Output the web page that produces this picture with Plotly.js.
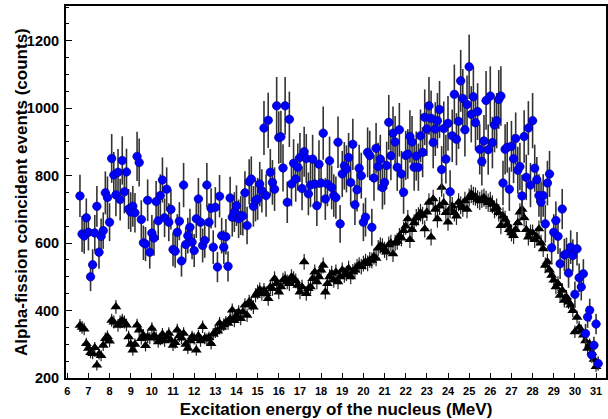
<!DOCTYPE html>
<html>
<head>
<meta charset="utf-8">
<script src="https://cdn.plot.ly/plotly-3.0.1.min.js"></script>
<style>
  html, body { margin: 0; padding: 0; background: #ffffff; }
  #chart { width: 608px; height: 419px; }
</style>
</head>
<body>
<div id="chart"></div>
<script>
// Bin centres start at 6.6 MeV, 0.1 MeV wide
const binStart = 6.6;
const binWidth = 0.1;

// Black triangles: alpha-fission coincident counts (6.6 ... 31.0 MeV)
const blackCounts = [
  356, 350, 345, 302,
  288, 275, 272, 290, 238, 271, 266, 297, 317, 323,
  309, 371, 366, 411, 356, 366, 371, 366, 357, 322,
  300, 283, 300, 357, 342, 317, 327, 296, 322, 318,
  347, 325, 320, 307, 315, 330, 310, 322, 332, 312,
  297, 305, 342, 325, 318, 332, 300, 288, 310, 322,
  317, 283, 325, 310, 352, 318, 315, 320, 302, 330,
  337, 340, 362, 350, 358, 365, 362, 376, 401, 370,
  385, 396, 376, 396, 416, 386, 426, 420, 410, 445,
  455, 462, 450, 460, 450, 435, 470, 465, 494, 480,
  455, 470, 490, 494, 485, 480, 500, 494, 488, 475,
  455, 470, 544, 450, 465, 470, 495, 514, 485, 500,
  520, 534, 455, 480, 500, 510, 490, 514, 485, 500,
  520, 505, 510, 525, 500, 515, 520, 530, 535, 530,
  539, 545, 540, 550, 549, 560, 555, 585, 593, 590,
  580, 573, 595, 600, 568, 600, 605, 620, 615, 637,
  650, 672, 610, 640, 660, 675, 680, 690, 682, 642,
  692, 721, 618, 731, 700, 672, 710, 765, 720, 690,
  662, 700, 710, 690, 680, 721, 712, 705, 725, 700,
  735, 746, 740, 738, 730, 725, 731, 735, 728, 720,
  725, 715, 700, 706, 690, 652, 680, 670, 655, 640,
  630, 622, 640, 660, 692, 700, 675, 640, 618, 630,
  630, 610, 618, 642, 600, 583, 534, 545, 520, 504,
  490, 470, 480, 445, 460, 430, 440, 425, 416, 400,
  337, 380, 350, 340, 327, 310, 288, 300, 275, 255,
  234
];

// Blue circles: alpha-fission coincident counts (6.6 ... 31.1 MeV)
const blueCounts = [
  740, 627, 621, 675,
  632, 500, 536, 630, 709, 573, 620, 637, 749, 735,
  662, 851, 802, 743, 810, 729, 845, 752, 811, 701,
  692, 709, 690, 857, 839, 670, 601, 597, 727, 573,
  630, 615, 723, 666, 741, 787, 675, 760, 662, 700,
  581, 576, 632, 665, 547, 772, 596, 622, 647, 603,
  578, 672, 731, 662, 593, 608, 772, 662, 703, 588,
  706, 529, 739, 622, 588, 619, 531, 734, 677, 692,
  711, 672, 682, 680, 749, 652, 782, 790, 709, 726,
  731, 775, 755, 941, 741, 964, 810, 780, 760, 1007,
  913, 915, 823, 1007, 721, 967, 775, 837, 790, 825,
  854, 762, 871, 851, 746, 772, 849, 775, 711, 834,
  778, 926, 731, 775, 844, 765, 741, 735, 899, 657,
  805, 829, 820, 854, 780, 893, 714, 758, 822, 800,
  662, 677, 869, 860, 647, 793, 881, 827, 849, 765,
  780, 830, 958, 859, 926, 900, 825, 936, 805, 751,
  860, 864, 916, 900, 825, 858, 825, 918, 869, 973,
  938, 1007, 970, 898, 938, 963, 996, 818, 940, 849,
  955, 752, 918, 1041, 908, 961, 1081, 1029, 936, 1011,
  1123, 982, 1034, 957, 990, 878, 842, 903, 1023, 877,
  1036, 898, 950, 963, 1026, 1036, 778, 878, 884, 760,
  887, 850, 910, 816, 827, 740, 916, 795, 941, 772,
  963, 822, 788, 741, 721, 741, 657, 778, 805, 586,
  632, 667, 620, 539, 701, 565, 568, 511, 588, 563,
  448, 583, 497, 470, 509, 332, 381, 401, 268, 297,
  360, 243
];

const xTickVals = [6, 7, 8, 9, 10, 11, 12, 13, 14, 15, 16, 17, 18, 19, 20, 21, 22, 23, 24, 25, 26, 27, 28, 29, 30, 31];
const xTickText = ["6", "7", "8", "9", "10", "11", "12", "13", "14", "15", "16", "17", "18", "19", "20", "21", "22", "23", "24", "25", "26", "27", "28", "29", "30", "31"];
const yTickVals = [200, 400, 600, 800, 1000, 1200];
const yTickText = ["200", "400", "600", "800", "1000", "1200"];

const xTitle = "Excitation energy of the nucleus (MeV)";
const yTitle = "Alpha-fission coincident events (counts)";

function binCentres(n) {
  const out = [];
  for (let i = 0; i < n; i++) out.push(Math.round((binStart + binWidth * i) * 100) / 100);
  return out;
}

const FONT = "'Liberation Sans', Arial, Helvetica, sans-serif";

const blackTrace = {
  type: 'scatter',
  mode: 'markers',
  x: binCentres(blackCounts.length),
  y: blackCounts,
  marker: { symbol: 'triangle-up', size: 9.5, color: '#000000' },
  error_y: { type: 'sqrt', visible: true, color: '#222222', thickness: 1.2, width: 0 },
  error_x: { type: 'constant', value: 0.17, visible: true, color: '#333333', thickness: 1.3, width: 0 },
  showlegend: false,
  hoverinfo: 'x+y'
};

const blueTrace = {
  type: 'scatter',
  mode: 'markers',
  x: binCentres(blueCounts.length),
  y: blueCounts,
  marker: { symbol: 'circle', size: 8.5, color: '#0000ff', line: { width: 0.6, color: '#00008a' } },
  error_y: { type: 'percent', value: 8.5, visible: true, color: '#333333', thickness: 1.6, width: 0 },
  error_x: { type: 'constant', value: 0.2, visible: true, color: '#111111', thickness: 1.4, width: 0 },
  showlegend: false,
  hoverinfo: 'x+y'
};

const layout = {
  width: 608,
  height: 419,
  margin: { l: 66, r: 2, t: 6, b: 41, pad: 0 },
  paper_bgcolor: '#ffffff',
  plot_bgcolor: '#ffffff',
  showlegend: false,
  font: { family: FONT, color: '#000000' },
  xaxis: {
    range: [5.94, 31.47],
    tickmode: 'array',
    tickvals: xTickVals,
    ticktext: xTickText,
    ticks: 'inside',
    ticklen: 5,
    tickwidth: 1,
    tickcolor: '#000000',
    showline: true,
    linecolor: '#000000',
    linewidth: 2,
    mirror: true,
    showgrid: false,
    zeroline: false,
    tickfont: { family: FONT, size: 11, weight: 'bold', color: '#000000' },
    ticklabelstandoff: 2,
    title: { text: xTitle, font: { family: FONT, size: 17, weight: 'bold', color: '#000000' }, standoff: 7 },
    automargin: false
  },
  yaxis: {
    range: [200, 1303],
    tickmode: 'array',
    tickvals: yTickVals,
    ticktext: yTickText,
    ticks: 'inside',
    ticklen: 6,
    tickwidth: 1,
    tickcolor: '#000000',
    minor: { dtick: 50, tick0: 0, ticks: 'inside', ticklen: 3, tickwidth: 1, tickcolor: '#000000' },
    showline: true,
    linecolor: '#000000',
    linewidth: 2,
    mirror: true,
    showgrid: false,
    zeroline: false,
    tickfont: { family: FONT, size: 14.5, weight: 'bold', color: '#000000' },
    ticklabelstandoff: 2,
    automargin: false
  },
  annotations: [{
    text: yTitle,
    xref: 'paper', yref: 'paper',
    x: 0, y: 0.5,
    xanchor: 'center', yanchor: 'middle',
    xshift: -45,
    textangle: -90,
    showarrow: false,
    font: { family: FONT, size: 17, weight: 'bold', color: '#000000' }
  }]
};

Plotly.newPlot('chart', [blackTrace, blueTrace], layout, { staticPlot: true, displayModeBar: false });
</script>
</body>
</html>
